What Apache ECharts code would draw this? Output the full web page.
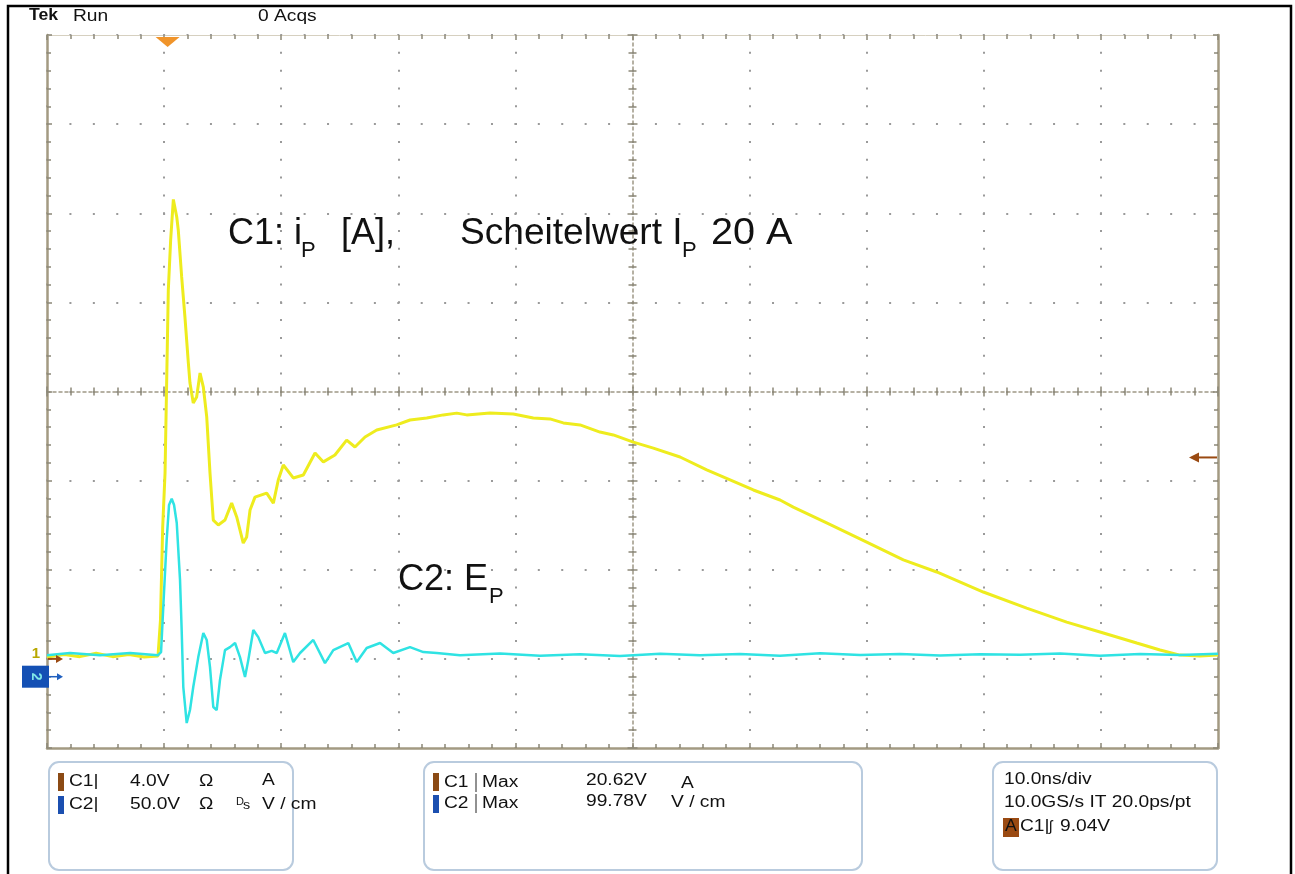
<!DOCTYPE html>
<html><head><meta charset="utf-8">
<script src="https://cdn.jsdelivr.net/npm/echarts@6/dist/echarts.min.js"></script>
<style>html,body{margin:0;padding:0;background:#fff}#c{width:1295px;height:874px}</style>
</head><body><div id="c"></div>
<script>
// ---- data (time in ns, C1 in A, C2 in V/cm) ----
const timeC1 = [0,1.5,2.8,4.2,5.6,7.0,8.3,9.48,9.65,9.69,9.88,10.08,10.36,10.56,10.79,11.08,11.21,11.50,11.78,12.07,12.21,12.49,12.78,13.07,13.35,13.64,13.92,14.20,14.63,15.20,15.77,16.20,16.76,17.05,17.34,17.76,18.76,19.33,19.75,20.18,21.03,21.89,22.89,23.60,24.59,25.59,26.30,27.16,28.16,29.86,31.00,32.43,33.84,34.99,35.84,37.83,39.82,41.53,42.95,44.09,45.52,47.22,48.36,50.07,51.78,54.06,56.34,58.33,60.32,62.60,63.73,66.58,70.00,73.13,75.98,79.96,83.66,87.08,90.21,93.06,95.05,96.75,98.46,100];
const currentC1 = [0.08,0.2,0.1,0.25,0.1,0.2,0.08,0.13,0.08,1.74,5.92,8.34,16.56,18.80,20.62,19.83,19.25,17.14,15.34,13.28,12.38,11.48,11.75,12.83,12.20,10.86,8.34,6.23,6.01,6.23,6.99,6.37,5.20,5.47,6.68,7.26,7.44,6.99,8.03,8.70,8.12,8.25,9.24,8.84,9.15,9.82,9.51,9.96,10.27,10.50,10.72,10.81,10.95,11.03,10.95,11.03,10.99,10.81,10.77,10.59,10.50,10.18,10.05,9.73,9.46,9.06,8.48,8.03,7.58,7.13,6.81,6.10,5.24,4.44,3.90,3.00,2.28,1.65,1.16,0.71,0.40,0.17,0.13,0.17];
const timeC2 = [0,1.96,4.53,7.09,9.48,9.74,9.93,10.22,10.42,10.65,10.85,11.08,11.36,11.50,11.64,11.93,12.21,12.49,12.92,13.35,13.64,13.92,14.20,14.49,14.77,15.20,15.63,16.06,16.48,16.91,17.19,17.62,18.04,18.62,19.19,19.62,20.32,21.03,21.61,22.74,23.74,24.45,25.73,26.45,27.30,28.44,29.57,31.00,32.14,33.28,35.27,38.69,42.10,45.52,48.93,52.35,55.76,59.18,62.60,66.01,69.43,72.84,76.26,79.68,83.09,86.51,89.92,93.34,96.75,100];
const fieldC2 = [12.1,13.3,12.1,13.3,12.1,13.8,39.1,76.7,96.3,99.8,96.3,86.2,54.2,26.2,-5.8,-26.0,-18.7,-5.8,11.0,24.5,20.6,5.4,-17.0,-18.7,-1.9,14.9,16.6,18.9,11.0,-0.2,9.3,26.2,22.2,13.3,14.5,13.3,24.5,8.2,13.3,20.6,7.6,14.9,18.9,8.2,16.1,18.9,13.3,16.6,13.8,13.3,12.1,13.0,11.8,12.6,11.6,12.9,12.0,12.7,11.7,13.1,12.2,12.8,11.9,12.6,12.3,13.0,11.8,12.7,12.2,12.9];

// scope settings
const timeRangeNs = [0, 100];          // 10 ns/div
const c1RangeA = [-4, 28];             // 4 A/div, ground 3 div below centre
const c2RangeVcm = [-40, 360];         // 50 V/cm per div
const triggerTimeNs = 10.3;
const triggerLevelA = 9.04;
const headerTexts = ['Tek', 'Run', '0 Acqs'];
const box1Rows = [['C1|', '4.0V', 'Ω', 'A'], ['C2|', '50.0V', 'Ω', 'V / cm']];
const box2Rows = [['C1', 'Max', '20.62V', 'A'], ['C2', 'Max', '99.78V', 'V / cm']];
const box3Rows = ['10.0ns/div', '10.0GS/s IT 20.0ps/pt', 'C1|', '9.04V'];

const FONT = '"Liberation Sans", Arial, sans-serif';
const TICK = '#8c8878';
const EDGE = '#a39a82';

function edgeX(position, color, width) {
  return { type: 'value', min: -5, max: 5, interval: 1, position,
    axisLine: { show: true, onZero: false, lineStyle: { color, width } },
    axisTick: { show: true, inside: true, length: 5, lineStyle: { color: TICK, width: 1.5 } },
    minorTick: { show: true, splitNumber: 5, length: 4, lineStyle: { color: TICK, width: 1.5 } },
    axisLabel: { show: false }, splitLine: { show: false } };
}
function edgeY(position, color, width) {
  return { type: 'value', min: -4, max: 4, interval: 1, position,
    axisLine: { show: true, onZero: false, lineStyle: { color, width } },
    axisTick: { show: true, inside: true, length: 5, lineStyle: { color: TICK, width: 1.5 } },
    minorTick: { show: true, splitNumber: 5, length: 4, lineStyle: { color: TICK, width: 1.5 } },
    axisLabel: { show: false }, splitLine: { show: false } };
}
function centreX(position, showLine) {
  return { type: 'value', min: -5, max: 5, interval: 1, position,
    axisLine: { show: showLine, onZero: true, onZeroAxisIndex: 0, lineStyle: { color: '#9e9886', width: 1.5, type: [3, 3] } },
    axisTick: { show: true, inside: true, length: 5, lineStyle: { color: TICK, width: 1.5 } },
    minorTick: { show: true, splitNumber: 5, length: 4, lineStyle: { color: TICK, width: 1.5 } },
    axisLabel: { show: false }, splitLine: { show: false } };
}
function centreY(position, showLine) {
  return { type: 'value', min: -4, max: 4, interval: 1, position,
    axisLine: { show: showLine, onZero: true, onZeroAxisIndex: 0, lineStyle: { color: '#9e9886', width: 1.5, type: [3, 3] } },
    axisTick: { show: true, inside: true, length: 5, lineStyle: { color: TICK, width: 1.5 } },
    minorTick: { show: true, splitNumber: 5, length: 4, lineStyle: { color: TICK, width: 1.5 } },
    axisLabel: { show: false }, splitLine: { show: false } };
}

const xA0 = edgeX('bottom', EDGE, 2.5);
xA0.splitLine = { show: true, lineStyle: { color: '#9a9a9a', width: 2, type: [2, 15.82], dashOffset: 1 } };
const yA0 = edgeY('left', EDGE, 2.5);
yA0.splitLine = { show: true, lineStyle: { color: '#9a9a9a', width: 2, type: [2, 21.42], dashOffset: 1 } };

const option = {
  animation: false,
  backgroundColor: '#ffffff',
  grid: { left: 47, top: 35, width: 1171, height: 713, containLabel: false },
  xAxis: [
    xA0,
    edgeX('top', '#d6d0c0', 1),
    centreX('bottom', true),
    centreX('top', false),
    { type: 'value', min: timeRangeNs[0], max: timeRangeNs[1], show: false }
  ],
  yAxis: [
    yA0,
    edgeY('right', EDGE, 2.5),
    centreY('left', true),
    centreY('right', false),
    { type: 'value', min: c1RangeA[0], max: c1RangeA[1], show: false },
    { type: 'value', min: c2RangeVcm[0], max: c2RangeVcm[1], show: false }
  ],
  series: [
    { name: 'C1', type: 'line', xAxisIndex: 4, yAxisIndex: 4, symbol: 'none', silent: true,
      lineStyle: { color: '#eeec1e', width: 3 },
      data: timeC1.map((t, i) => [t, currentC1[i]]) },
    { name: 'C2', type: 'line', xAxisIndex: 4, yAxisIndex: 5, symbol: 'none', silent: true,
      lineStyle: { color: '#2fe3e3', width: 2.5 },
      data: timeC2.map((t, i) => [t, fieldC2[i]]) }
  ]
};

const chart = echarts.init(document.getElementById('c'), null, { renderer: 'canvas' });
chart.setOption(option);

const px = t => chart.convertToPixel({ xAxisIndex: 4 }, t);
const py1 = v => chart.convertToPixel({ yAxisIndex: 4 }, v);
const py2 = v => chart.convertToPixel({ yAxisIndex: 5 }, v);

function T(x, y, text, size, o) {
  o = o || {};
  return { type: 'text', x, y, scaleX: o.sx == null ? 1.2 : o.sx, z: 100, silent: true,
    style: { text, font: (o.weight || 'normal') + ' ' + size + 'px ' + FONT,
      fill: o.color || '#111', align: o.align || 'left', verticalAlign: 'middle' } };
}
function R(x, y, w, h, fill, stroke, lw, r) {
  return { type: 'rect', z: 90, silent: true, shape: { x, y, width: w, height: h, r: r || 0 },
    style: { fill: fill || 'none', stroke: stroke || null, lineWidth: lw || 0 } };
}
function P(points, fill) {
  return { type: 'polygon', z: 95, silent: true, shape: { points }, style: { fill } };
}
function L(x1, y1, x2, y2, color, w) {
  return { type: 'line', z: 95, silent: true, shape: { x1, y1, x2, y2 }, style: { stroke: color, lineWidth: w } };
}

const g = [];
// outer frame
g.push(R(8, 6, 1283, 900, 'none', '#000', 2.5));
// header
g.push(T(29, 16, headerTexts[0], 16, { weight: 'bold', sx: 1.1 }));
g.push(T(73, 17, headerTexts[1], 16, { sx: 1.2 }));
g.push(T(258, 17, headerTexts[2], 16, { sx: 1.2 }));

// trigger position marker
const tx = px(triggerTimeNs);
g.push(P([[tx - 12, 37], [tx + 12, 37], [tx, 47]], '#f0942a'));
// trigger level arrow (right)
const ty = py1(triggerLevelA);
g.push(L(1197, ty, 1217, ty, '#9a4a12', 2));
g.push(P([[1189, ty], [1199, ty - 5], [1199, ty + 5]], '#9a4a12'));

// ground markers (left)
const gy1 = py1(0), gy2 = py2(0);
g.push(T(36, gy1 - 5, '1', 15, { color: '#b8a800', weight: 'bold', align: 'center', sx: 1 }));
g.push(L(48, gy1, 57, gy1, '#9a4a12', 2));
g.push(P([[63, gy1], [56, gy1 - 4], [56, gy1 + 4]], '#9a4a12'));
g.push(R(22, gy2 - 11, 27, 22, '#1450b4'));
g.push({ type: 'text', x: 35.5, y: gy2, rotation: -Math.PI / 2, z: 100, silent: true,
  style: { text: '2', font: 'bold 14px ' + FONT, fill: '#7fe8e8', align: 'center', verticalAlign: 'middle' } });
g.push(L(49, gy2, 58, gy2, '#2060c0', 1.5));
g.push(P([[63, gy2], [57, gy2 - 3.5], [57, gy2 + 3.5]], '#2060c0'));

// annotations
g.push(T(228, 234, 'C1: i', 36, { sx: 1 }));
g.push(T(301, 251, 'P', 22, { sx: 1 }));
g.push(T(341, 234, '[A],', 36, { sx: 1 }));
g.push(T(460, 234, 'Scheitelwert I', 36, { sx: 1.03 }));
g.push(T(682, 251, 'P', 22, { sx: 1 }));
g.push(T(711, 234, '20 A', 36, { sx: 1.1 }));
g.push(T(398, 580, 'C2: E', 36, { sx: 1 }));
g.push(T(489, 597, 'P', 22, { sx: 1 }));

// info boxes
const BOXC = '#b9cbde';
g.push(R(49, 762, 244, 108, 'none', BOXC, 2, 10));
g.push(R(424, 762, 438, 108, 'none', BOXC, 2, 10));
g.push(R(993, 762, 224, 108, 'none', BOXC, 2, 10));

// box 1
g.push(R(58, 773, 6, 18, '#8b4a14'));
g.push(R(58, 796, 6, 18, '#1b4fb0'));
g.push(T(69, 782, box1Rows[0][0], 16));
g.push(T(130, 782, box1Rows[0][1], 16));
g.push(T(199, 782, box1Rows[0][2], 16));
g.push(T(262, 781, box1Rows[0][3], 16));
g.push(T(69, 805, box1Rows[1][0], 16));
g.push(T(130, 805, box1Rows[1][1], 16));
g.push(T(199, 805, box1Rows[1][2], 16));
g.push(T(236, 802, 'D', 10, { sx: 1.1 }));
g.push(T(243, 805, 's', 13, { sx: 1.1 }));
g.push(T(262, 805, box1Rows[1][3], 16));

// box 2
g.push(R(433, 773, 6, 18, '#8b4a14'));
g.push(R(433, 795, 6, 18, '#1b4fb0'));
g.push(T(444, 783, box2Rows[0][0], 16));
g.push(L(476, 773, 476, 792, '#222', 1));
g.push(T(482, 783, box2Rows[0][1], 16));
g.push(T(586, 781, box2Rows[0][2], 16));
g.push(T(681, 784, box2Rows[0][3], 16));
g.push(T(444, 804, box2Rows[1][0], 16));
g.push(L(476, 794, 476, 813, '#222', 1));
g.push(T(482, 804, box2Rows[1][1], 16));
g.push(T(586, 802, box2Rows[1][2], 16));
g.push(T(671, 803, box2Rows[1][3], 16));

// box 3
g.push(T(1004, 780, box3Rows[0], 16));
g.push(T(1004, 803, box3Rows[1], 16));
g.push(R(1003, 818, 16, 19, '#9a4a12'));
g.push(T(1005, 827, 'A', 16, { sx: 1.1, color: '#111' }));
g.push(T(1020, 827, box3Rows[2], 16));
g.push(T(1049, 827, 'ʃ', 15, { sx: 1 }));
g.push(T(1060, 827, box3Rows[3], 16));

chart.setOption({ graphic: g });
</script>
</body></html>
